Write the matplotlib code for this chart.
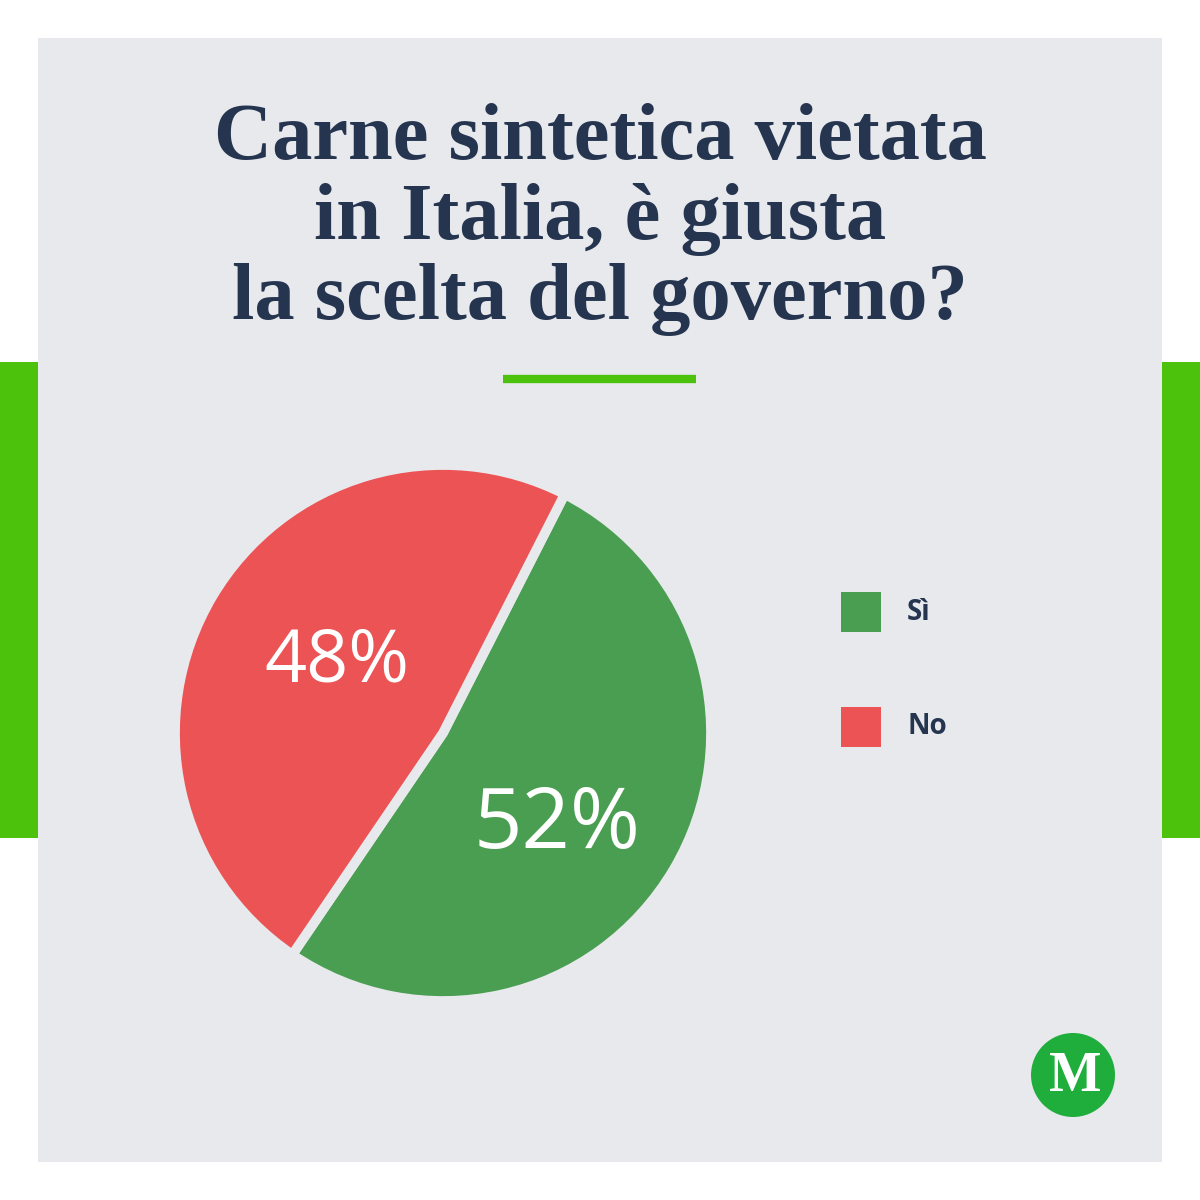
import matplotlib.pyplot as plt
from matplotlib.patches import Rectangle, Circle

## Dati
labels = ["Sì", "No"]
values = [52, 48]
colors = ["#4a9e51", "#ec5354"]
title_lines = ["Carne sintetica vietata", "in Italia, è giusta", "la scelta del governo?"]

PANEL = "#e8e9ed"
BRIGHT_GREEN = "#4cc20c"
NAVY = "#253550"

fig = plt.figure(figsize=(12, 12), dpi=100)
ax = fig.add_axes([0, 0, 1, 1])
ax.set_xlim(0, 1200)
ax.set_ylim(0, 1200)
ax.set_aspect("equal")
ax.axis("off")

# sfondo
ax.add_patch(Rectangle((0, 1200 - 838), 38, 476, color=BRIGHT_GREEN, lw=0))
ax.add_patch(Rectangle((1162, 1200 - 838), 38, 476, color=BRIGHT_GREEN, lw=0))
ax.add_patch(Rectangle((38, 38), 1124, 1124, color=PANEL, lw=0))

# titolo
for i, line in enumerate(title_lines):
    ax.text(600, 1200 - (159 + i * 80), line, ha="center", va="baseline",
            fontsize=58, fontweight="bold", family="Liberation Serif", color=NAVY)
ax.plot([503, 696], [1200 - 379, 1200 - 379], color=BRIGHT_GREEN, lw=6, solid_capstyle="butt")

# torta
wedges, texts, autotexts = ax.pie(
    values, colors=colors, startangle=63, counterclock=False,
    center=(443, 1200 - 733), radius=268, frame=True,
    autopct="%d%%", pctdistance=0.53,
    wedgeprops=dict(edgecolor=PANEL, linewidth=7),
    textprops=dict(color="white", family="Open Sans"))
autotexts[0].set_fontsize(61)
autotexts[0].set_position((557, 1200 - 826))
autotexts[1].set_fontsize(53)
autotexts[1].set_position((337, 1200 - 662))
ax.set_xlim(0, 1200)
ax.set_ylim(0, 1200)
ax.axis("off")

# legenda
for i, (lab, c) in enumerate(zip(labels, colors)):
    y = 612 + i * 115
    ax.add_patch(Rectangle((841, 1200 - y - 20), 40, 40, color=c, lw=0))
    ax.text(907, 1200 - y, lab, ha="left", va="center", fontsize=20,
            fontweight="bold", family="Open Sans", color=NAVY)

# logo
ax.add_patch(Circle((1073, 1200 - 1075), 42, color="#1fae3c", lw=0))
ax.text(1075, 1200 - 1077, "M", ha="center", va="center", fontsize=40,
        fontweight="bold", family="Liberation Serif", color="white")

fig.savefig("out.png", dpi=100)
